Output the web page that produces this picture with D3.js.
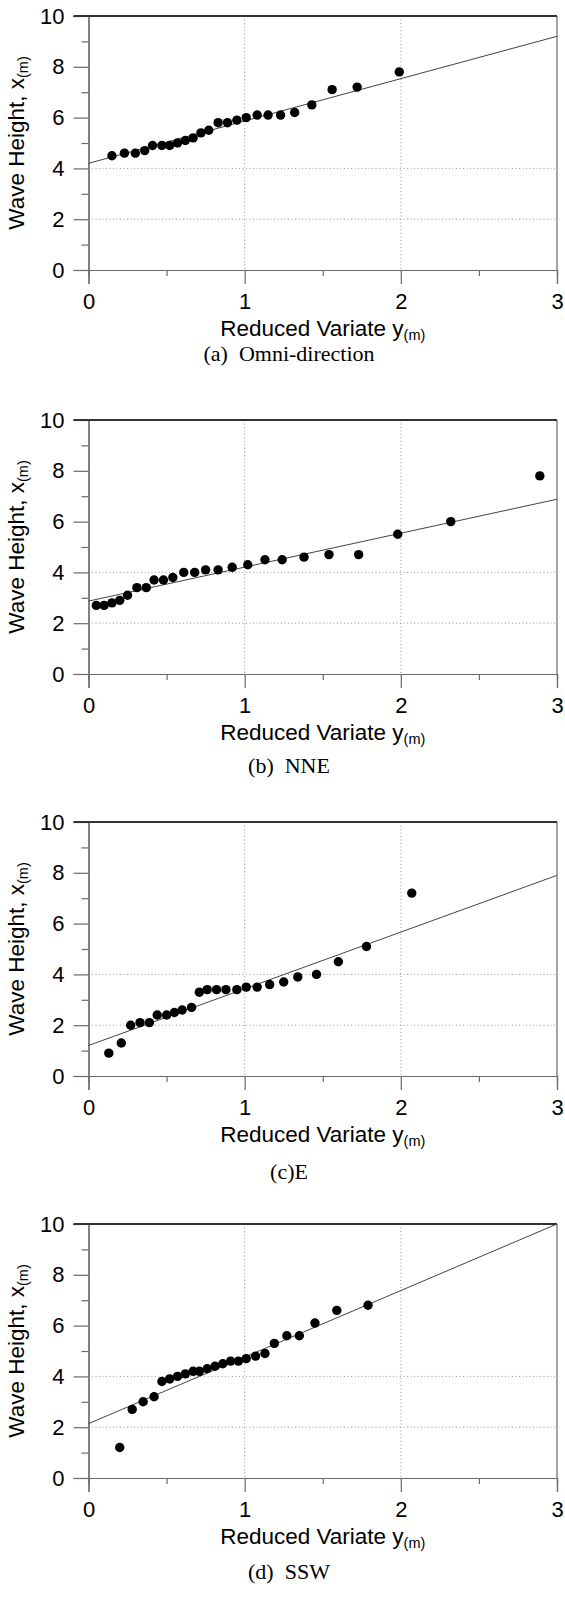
<!DOCTYPE html>
<html>
<head>
<meta charset="utf-8">
<script src="https://cdn.jsdelivr.net/npm/d3@7"></script>
<style>
  body { margin: 0; background: #fff; }
  svg { display: block; }
  .tick text { font-family: "Liberation Sans", Arial, sans-serif; font-size: 22px; fill: #000; }
  .axis-title { font-family: "Liberation Sans", Arial, sans-serif; font-size: 22.5px; fill: #000; }
  .caption { font-family: "Liberation Serif", "Times New Roman", serif; font-size: 22px; fill: #000; }
</style>
</head>
<body>
<svg id="chart" width="565" height="1598"></svg>
<script>
const width = 565;
const height = 1598;

// tick values shared by all four panels
var xTicks = [0, 1, 2, 3];
var xMinor = [0.5, 1.5, 2.5];
var yTicks = [0, 2, 4, 6, 8, 10];
var yMinor = [1, 3, 5, 7, 9];
var xGrid = [1, 2];
var yGrid = [2, 4];

var captions = ["(a)  Omni-direction", "(b)  NNE", "(c)E", "(d)  SSW"];

// reduced variate y(m) and wave height x(m)
var omniY = [0.15, 0.23, 0.30, 0.36, 0.41, 0.47, 0.52, 0.57, 0.62, 0.67, 0.72, 0.77, 0.83, 0.89, 0.95, 1.01, 1.08, 1.15, 1.23, 1.32, 1.43, 1.56, 1.72, 1.99];
var omniH = [4.5, 4.6, 4.6, 4.7, 4.9, 4.9, 4.9, 5.0, 5.1, 5.2, 5.4, 5.5, 5.8, 5.8, 5.9, 6.0, 6.1, 6.1, 6.1, 6.2, 6.5, 7.1, 7.2, 7.8];

var nneY = [0.05, 0.10, 0.15, 0.20, 0.25, 0.31, 0.37, 0.42, 0.48, 0.54, 0.61, 0.68, 0.75, 0.83, 0.92, 1.02, 1.13, 1.24, 1.38, 1.54, 1.73, 1.98, 2.32, 2.89];
var nneH = [2.7, 2.7, 2.8, 2.9, 3.1, 3.4, 3.4, 3.7, 3.7, 3.8, 4.0, 4.0, 4.1, 4.1, 4.2, 4.3, 4.5, 4.5, 4.6, 4.7, 4.7, 5.5, 6.0, 7.8];

var eY = [0.13, 0.21, 0.27, 0.33, 0.39, 0.44, 0.50, 0.55, 0.60, 0.66, 0.71, 0.76, 0.82, 0.88, 0.95, 1.01, 1.08, 1.16, 1.25, 1.34, 1.46, 1.60, 1.78, 2.07];
var eH = [0.9, 1.3, 2.0, 2.1, 2.1, 2.4, 2.4, 2.5, 2.6, 2.7, 3.3, 3.4, 3.4, 3.4, 3.4, 3.5, 3.5, 3.6, 3.7, 3.9, 4.0, 4.5, 5.1, 7.2];

var sswY = [0.20, 0.28, 0.35, 0.42, 0.47, 0.52, 0.57, 0.62, 0.67, 0.71, 0.76, 0.81, 0.86, 0.91, 0.96, 1.01, 1.07, 1.13, 1.19, 1.27, 1.35, 1.45, 1.59, 1.79];
var sswH = [1.2, 2.7, 3.0, 3.2, 3.8, 3.9, 4.0, 4.1, 4.2, 4.2, 4.3, 4.4, 4.5, 4.6, 4.6, 4.7, 4.8, 4.9, 5.3, 5.6, 5.6, 6.1, 6.6, 6.8];

// fitted Gumbel lines: wave height at y(m)=0 and y(m)=3
var fitStart = [4.2, 2.87, 1.2, 2.14];
var fitEnd = [9.2, 6.88, 7.9, 10.0];

var seriesY = [omniY, nneY, eY, sswY];
var seriesH = [omniH, nneH, eH, sswH];

var svg = d3.select("#chart");

var left = 88.5, right = 557;
var plotH = 254;
var tops = [16, 420, 822, 1224];
var captionGap = [91, 99, 103, 101];
var axisColor = "#6a6a6a";

tops.forEach(function (top, i) {
    var bottom = top + plotH;
    var x = d3.scaleLinear().domain([0, 3]).range([left, right]);
    var y = d3.scaleLinear().domain([0, 10]).range([bottom, top]);
    var g = svg.append("g");

    // dotted grid
    g.selectAll(".vgrid").data(xGrid).enter().append("line")
        .attr("x1", d => x(d)).attr("x2", d => x(d))
        .attr("y1", top).attr("y2", bottom)
        .attr("stroke", "#999").attr("stroke-dasharray", "1,2.5");
    g.selectAll(".hgrid").data(yGrid).enter().append("line")
        .attr("x1", left).attr("x2", right)
        .attr("y1", d => y(d)).attr("y2", d => y(d))
        .attr("stroke", "#999").attr("stroke-dasharray", "1,2.5");

    // minor ticks
    var yMin = g.append("g").attr("transform", "translate(" + left + ",0)")
        .call(d3.axisLeft(y).tickValues(yMinor).tickSize(7).tickFormat(""));
    var xMin = g.append("g").attr("transform", "translate(0," + bottom + ")")
        .call(d3.axisBottom(x).tickValues(xMinor).tickSize(6).tickFormat(""));

    // major ticks + labels
    var yAx = g.append("g").attr("transform", "translate(" + left + ",0)")
        .call(d3.axisLeft(y).tickValues(yTicks).tickSize(15).tickPadding(9).tickFormat(d3.format("d")));
    var xAx = g.append("g").attr("transform", "translate(0," + bottom + ")")
        .call(d3.axisBottom(x).tickValues(xTicks).tickSize(14).tickPadding(9).tickFormat(d3.format("d")));

    [yMin, xMin, yAx, xAx].forEach(function (a) {
        a.select(".domain").attr("stroke", axisColor).attr("stroke-width", 1.2);
        a.selectAll(".tick line").attr("stroke", axisColor).attr("stroke-width", 1.2);
    });

    // right border
    g.append("line")
        .attr("x1", right).attr("x2", right).attr("y1", top).attr("y2", bottom)
        .attr("stroke", axisColor).attr("stroke-width", 1.2);
    // heavy top border
    g.append("line")
        .attr("x1", left - 15).attr("x2", right).attr("y1", top).attr("y2", top)
        .attr("stroke", "#333").attr("stroke-width", 2.2);

    // fitted line
    g.append("line")
        .attr("x1", x(0)).attr("y1", y(fitStart[i]))
        .attr("x2", x(3)).attr("y2", y(fitEnd[i]))
        .attr("stroke", "#444").attr("stroke-width", 1);

    // points
    var pts = seriesY[i].map(function (v, k) { return [v, seriesH[i][k]]; });
    g.selectAll(".pt").data(pts).enter().append("circle")
        .attr("cx", d => x(d[0])).attr("cy", d => y(d[1]))
        .attr("r", 4.7).attr("fill", "#000");

    // axis titles
    var xt = g.append("text").attr("class", "axis-title")
        .attr("x", (left + right) / 2).attr("y", bottom + 66)
        .attr("text-anchor", "middle");
    xt.append("tspan").text("Reduced Variate y");
    xt.append("tspan").attr("dy", 4).attr("font-size", 14.5).text("(m)");

    var yt = g.append("text").attr("class", "axis-title")
        .attr("transform", "translate(24," + (top + plotH / 2) + ") rotate(-90)")
        .attr("text-anchor", "middle");
    yt.append("tspan").text("Wave Height, x");
    yt.append("tspan").attr("dy", 4).attr("font-size", 14.5).text("(m)");

    // caption
    g.append("text").attr("class", "caption")
        .attr("x", 289).attr("y", bottom + captionGap[i])
        .attr("text-anchor", "middle")
        .style("white-space", "pre")
        .text(captions[i]);
});
</script>
</body>
</html>
